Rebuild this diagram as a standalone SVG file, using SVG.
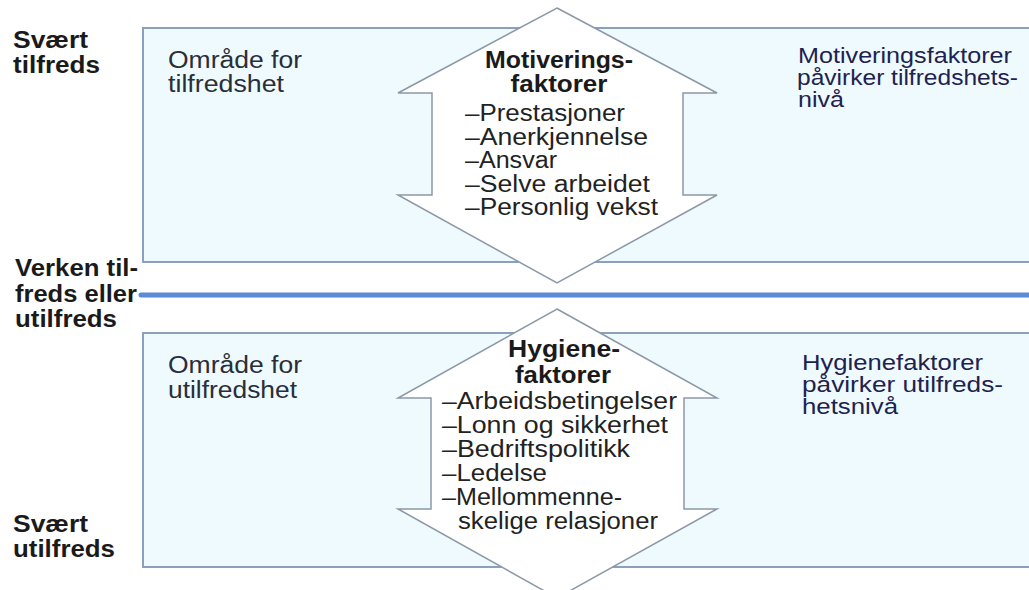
<svg xmlns="http://www.w3.org/2000/svg" width="1029" height="590" viewBox="0 0 1029 590">
<style>
text{font-family:"Liberation Sans",Arial,sans-serif;font-size:23px;}
.lbl{font-weight:bold;fill:#1a1a1a;}
.area{fill:#2a2e38;}
.hd{font-weight:bold;fill:#1a1a1a;text-anchor:middle;}
.it{fill:#222;}
.rt{fill:#1e2250;font-size:22px;}
.box{fill:#eefafd;stroke:#8aa0bc;stroke-width:2;}
.arr{fill:#ffffff;stroke:#8c98a8;stroke-width:1.5;stroke-linejoin:miter;}
</style>
<rect width="1029" height="590" fill="#ffffff"/>

<g id="labels">
<text class="lbl" x="13" y="48" textLength="75" lengthAdjust="spacingAndGlyphs">Svært</text>
<text class="lbl" x="13" y="73" textLength="87" lengthAdjust="spacingAndGlyphs">tilfreds</text>
<text class="lbl" x="15" y="276" textLength="123" lengthAdjust="spacingAndGlyphs">Verken til-</text>
<text class="lbl" x="15" y="302" textLength="122" lengthAdjust="spacingAndGlyphs">freds eller</text>
<text class="lbl" x="15" y="327" textLength="102" lengthAdjust="spacingAndGlyphs">utilfreds</text>
<text class="lbl" x="13" y="532" textLength="75" lengthAdjust="spacingAndGlyphs">Svært</text>
<text class="lbl" x="13" y="557" textLength="102" lengthAdjust="spacingAndGlyphs">utilfreds</text>
</g>

<g id="top-area">
<rect class="box" x="143" y="28" width="900" height="234"/>
<text class="area" x="168" y="68" textLength="134" lengthAdjust="spacingAndGlyphs">Område for</text>
<text class="area" x="168" y="92" textLength="116" lengthAdjust="spacingAndGlyphs">tilfredshet</text>
<text class="rt" x="798" y="63" textLength="214" lengthAdjust="spacingAndGlyphs">Motiveringsfaktorer</text>
<text class="rt" x="797" y="85" textLength="221" lengthAdjust="spacingAndGlyphs">påvirker tilfredshets-</text>
<text class="rt" x="798" y="107" textLength="46" lengthAdjust="spacingAndGlyphs">nivå</text>
</g>

<g id="bottom-area">
<rect class="box" x="143" y="333" width="900" height="234"/>
<text class="area" x="168" y="373" textLength="134" lengthAdjust="spacingAndGlyphs">Område for</text>
<text class="area" x="168" y="398" textLength="129" lengthAdjust="spacingAndGlyphs">utilfredshet</text>
<text class="rt" x="802" y="370" textLength="181" lengthAdjust="spacingAndGlyphs">Hygienefaktorer</text>
<text class="rt" x="802" y="392" textLength="201" lengthAdjust="spacingAndGlyphs">påvirker utilfreds-</text>
<text class="rt" x="802" y="414" textLength="96" lengthAdjust="spacingAndGlyphs">hetsnivå</text>
</g>

<g id="connectors">
<line x1="141" y1="295" x2="1029" y2="295" stroke="#5a8ad8" stroke-width="5" stroke-linecap="round"/>
</g>

<g id="motivation-arrow">
<polygon class="arr" points="557,8 717,93 683,93 683,195 717,195 557,283 398,195 432,195 432,93 398,93"/>
<text class="hd" x="559" y="68" textLength="148" lengthAdjust="spacingAndGlyphs">Motiverings-</text>
<text class="hd" x="559" y="92" textLength="97" lengthAdjust="spacingAndGlyphs">faktorer</text>
<text class="it" x="465" y="121" textLength="160" lengthAdjust="spacingAndGlyphs">–Prestasjoner</text>
<text class="it" x="465" y="144.5" textLength="183" lengthAdjust="spacingAndGlyphs">–Anerkjennelse</text>
<text class="it" x="465" y="168" textLength="92" lengthAdjust="spacingAndGlyphs">–Ansvar</text>
<text class="it" x="465" y="191.5" textLength="185" lengthAdjust="spacingAndGlyphs">–Selve arbeidet</text>
<text class="it" x="465" y="215" textLength="193" lengthAdjust="spacingAndGlyphs">–Personlig vekst</text>
</g>

<g id="hygiene-arrow">
<polygon class="arr" points="557,309 717,398 684,398 684,509 717,509 557,598 398,509 431,509 431,398 398,398"/>
<text class="hd" x="564" y="357" textLength="112" lengthAdjust="spacingAndGlyphs">Hygiene-</text>
<text class="hd" x="563" y="383" textLength="96" lengthAdjust="spacingAndGlyphs">faktorer</text>
<text class="it" x="442" y="409" textLength="235" lengthAdjust="spacingAndGlyphs">–Arbeidsbetingelser</text>
<text class="it" x="442" y="433" textLength="226" lengthAdjust="spacingAndGlyphs">–Lonn og sikkerhet</text>
<text class="it" x="442" y="457" textLength="188" lengthAdjust="spacingAndGlyphs">–Bedriftspolitikk</text>
<text class="it" x="442" y="481" textLength="105" lengthAdjust="spacingAndGlyphs">–Ledelse</text>
<text class="it" x="442" y="505" textLength="180" lengthAdjust="spacingAndGlyphs">–Mellommenne-</text>
<text class="it" x="458" y="529" textLength="200" lengthAdjust="spacingAndGlyphs">skelige relasjoner</text>
</g>
</svg>
